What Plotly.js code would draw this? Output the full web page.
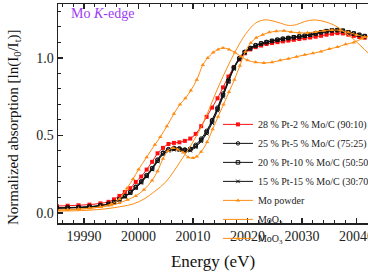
<!DOCTYPE html>
<html><head><meta charset="utf-8">
<script src="https://cdn.plot.ly/plotly-3.0.1.min.js"></script>
<style>html,body{margin:0;padding:0;background:#fff;overflow:hidden;width:368px;height:274px}#chart{width:368px;height:274px}</style>
</head><body><div id="chart"></div>
<script>
// Shared energy grid for the Pt-Mo/C samples (eV)
const energySamples = [19985,19987,19989,19991,19993,19994.5,19995.5,19996.5,19997.5,19998.5,19999.5,20000.5,20001.5,20002.5,20003.5,20004.5,20005.5,20006.5,20007.5,20008.5,20009.5,20010.5,20011.5,20012.5,20013.5,20014.5,20015.5,20016.5,20017.5,20018.5,20019.5,20020.5,20021.5,20022.5,20023.5,20024.5,20025.5,20026.5,20027.5,20028.5,20029.5,20030.5,20031.5,20032.5,20033.5,20034.5,20035.5,20036.5,20037.5,20038.5,20039.5,20040.5,20041.5];
const pt28 = [0.045,0.047,0.05,0.054,0.062,0.072,0.088,0.11,0.135,0.16,0.2,0.235,0.28,0.33,0.385,0.42,0.445,0.452,0.456,0.465,0.48,0.51,0.56,0.62,0.68,0.74,0.81,0.88,0.94,0.99,1.03,1.055,1.07,1.08,1.09,1.096,1.102,1.107,1.112,1.117,1.122,1.127,1.132,1.137,1.143,1.15,1.156,1.16,1.158,1.15,1.142,1.135,1.13];
const pt25 = [0.032,0.034,0.036,0.04,0.048,0.058,0.07,0.09,0.11,0.135,0.17,0.205,0.245,0.29,0.345,0.39,0.412,0.42,0.418,0.41,0.415,0.44,0.48,0.53,0.6,0.68,0.77,0.86,0.94,1.0,1.04,1.065,1.083,1.095,1.103,1.11,1.118,1.124,1.13,1.134,1.138,1.143,1.15,1.157,1.165,1.172,1.178,1.18,1.175,1.165,1.157,1.148,1.14];
const pt20 = [0.034,0.035,0.037,0.041,0.049,0.059,0.07,0.088,0.108,0.132,0.165,0.2,0.24,0.285,0.338,0.385,0.408,0.415,0.412,0.405,0.41,0.432,0.47,0.52,0.59,0.67,0.76,0.85,0.935,0.995,1.037,1.063,1.08,1.093,1.102,1.11,1.117,1.123,1.128,1.133,1.138,1.143,1.15,1.158,1.166,1.173,1.178,1.18,1.176,1.166,1.158,1.149,1.141];
const pt15 = [0.03,0.032,0.034,0.038,0.046,0.056,0.067,0.085,0.105,0.128,0.16,0.195,0.235,0.28,0.332,0.378,0.4,0.408,0.405,0.398,0.402,0.425,0.462,0.512,0.58,0.66,0.75,0.845,0.93,0.99,1.035,1.06,1.078,1.09,1.1,1.108,1.115,1.122,1.128,1.133,1.137,1.142,1.148,1.156,1.164,1.171,1.176,1.178,1.174,1.164,1.156,1.147,1.139];

const moPowderE = [19985,19987,19989,19991,19993,19995,19996.5,19997.9,19999,20000,20001.5,20003,20004,20005.2,20006.5,20007.6,20008.6,20009.6,20010.7,20011.8,20012.7,20013.7,20014.6,20015.5,20016.6,20017.7,20018.8,20020,20021.5,20023,20024.5,20026,20027.5,20029,20030.5,20032,20033.5,20035,20036.5,20038,20039.5,20041,20042.2];
const moPowder = [0.018,0.02,0.024,0.03,0.04,0.058,0.09,0.16,0.22,0.28,0.36,0.44,0.49,0.56,0.64,0.7,0.74,0.79,0.86,0.955,1.0,1.035,1.055,1.065,1.055,1.035,1.01,0.985,0.972,0.968,0.972,0.985,0.995,1.008,1.02,1.03,1.042,1.058,1.07,1.088,1.1,1.125,1.14];

const moO2E = [19985,19988,19991,19994,19997,19999,20001,20003,20005,20006.5,20008,20009.5,20011,20012.5,20014,20015.5,20017,20018.5,20020,20021.5,20023,20024.5,20026,20027.5,20029,20030.5,20032,20033.5,20035,20036.5,20038,20039.5,20041,20042.2];
const moO2 = [0.012,0.014,0.018,0.027,0.043,0.058,0.09,0.14,0.2,0.27,0.35,0.43,0.52,0.63,0.76,0.88,0.99,1.09,1.17,1.225,1.245,1.24,1.225,1.21,1.215,1.235,1.245,1.24,1.225,1.2,1.16,1.12,1.07,1.03];

const moO3E = [19985,19987,19989,19991,19993,19995,19996.5,19998,19999.5,20001,20002.5,20003.5,20004.5,20005.4,20006.3,20007.2,20008.2,20009.1,20010,20010.7,20011.5,20012.6,20013.6,20014.6,20015.6,20016.6,20017.6,20018.6,20019.6,20020.6,20021.6,20022.8,20024,20025.3,20026.7,20028,20029.5,20031,20032.5,20034,20035.5,20037,20038.5,20040,20041.5];
const moO3 = [0.02,0.022,0.025,0.03,0.038,0.05,0.065,0.085,0.11,0.15,0.21,0.27,0.35,0.4,0.42,0.41,0.39,0.36,0.355,0.365,0.395,0.458,0.54,0.62,0.7,0.78,0.86,0.95,1.04,1.097,1.13,1.15,1.165,1.172,1.175,1.168,1.162,1.162,1.168,1.175,1.18,1.178,1.165,1.15,1.135];

const seriesNames = ['28 % Pt-2 % Mo/C (90:10)','25 % Pt-5 % Mo/C (75:25)','20 % Pt-10 % Mo/C (50:50)','15 % Pt-15 % Mo/C (30:70)','Mo powder','MoO<sub>2</sub>','MoO<sub>3</sub>'];

const ORANGE = '#ff8c12';
const traces = [
  {x: energySamples, y: pt28, name: seriesNames[0], mode:'lines+markers', line:{color:'#ff1010',width:1,shape:'spline'}, marker:{symbol:'square',size:4,color:'#ff1010'}},
  {x: energySamples, y: pt25, name: seriesNames[1], mode:'lines+markers', line:{color:'#111',width:1,shape:'spline'}, marker:{symbol:'circle-open',size:3.5,color:'#111',line:{width:1}}},
  {x: energySamples, y: pt20, name: seriesNames[2], mode:'lines+markers', line:{color:'#111',width:1,shape:'spline'}, marker:{symbol:'square-open',size:3.5,color:'#111',line:{width:1}}},
  {x: energySamples, y: pt15, name: seriesNames[3], mode:'lines+markers', line:{color:'#111',width:1,shape:'spline'}, marker:{symbol:'x-thin-open',size:3.5,color:'#111',line:{width:1,color:'#111'}}},
  {x: moPowderE, y: moPowder, name: seriesNames[4], mode:'lines+markers', line:{color:ORANGE,width:1,shape:'spline'}, marker:{symbol:'triangle-up',size:4,color:ORANGE}},
  {x: moO2E, y: moO2, name: seriesNames[5], mode:'lines', line:{color:ORANGE,width:1,shape:'spline'}},
  {x: moO3E, y: moO3, name: seriesNames[6], mode:'lines+markers', line:{color:ORANGE,width:1,shape:'spline'}, marker:{symbol:'triangle-up',size:4,color:ORANGE}}
];

const SERIF = 'Times New Roman, Liberation Serif, serif';
const layout = {
  width: 368, height: 274,
  margin: {l:58, r:0, t:4, b:51, pad:0, autoexpand:false},
  paper_bgcolor:'#fff', plot_bgcolor:'#fff',
  showlegend: true,
  font: {family: SERIF, color:'#222'},
  xaxis: {
    range:[19985.23, 20042.11], dtick:10, tick0:19990, tickformat:'d',
    ticks:'inside', ticklen:5, tickwidth:1.3, tickcolor:'#222',
    minor:{dtick:2, ticks:'inside', ticklen:3, tickwidth:1, tickcolor:'#222'},
    showline:true, linecolor:'#222', linewidth:1.5, mirror:'allticks',
    showgrid:false, zeroline:false, automargin:false, ticklabeloverflow:'allow',
    tickfont:{family:SERIF, size:14, color:'#222'},
    title:{text:'Energy (eV)', font:{family:SERIF, size:17, color:'#111'}, standoff:12}
  },
  yaxis: {
    range:[-0.0645, 1.348], dtick:0.5, tick0:0, tickformat:'.1f',
    ticks:'inside', ticklen:5, tickwidth:1.3, tickcolor:'#222',
    minor:{dtick:0.1, ticks:'inside', ticklen:3, tickwidth:1, tickcolor:'#222'},
    showline:true, linecolor:'#222', linewidth:1.5, mirror:false,
    showgrid:false, zeroline:false, automargin:false,
    tickfont:{family:SERIF, size:14, color:'#222'}
  },
  legend: {
    x:0.516, xanchor:'left', y:0.19, yanchor:'middle',
    bgcolor:'rgba(0,0,0,0)', borderwidth:0,
    font:{family:SERIF, size:10, color:'#222'}
  },
  annotations: [
    {xref:'paper', yref:'paper', x:0.035, y:0.955, xanchor:'left', yanchor:'middle', showarrow:false,
     text:'Mo <i>K</i>-edge', font:{family:SERIF, size:14, color:'#9b3cf5'}},
    {xref:'paper', yref:'paper', x:0, xshift:-44, y:0.438, xanchor:'center', yanchor:'middle', showarrow:false, textangle:-90,
     text:'Normalized absorption [ln(I<sub>0</sub>/I<sub>t</sub>)]', font:{family:SERIF, size:15, color:'#111'}}
  ]
};

Plotly.newPlot('chart', traces, layout, {staticPlot:true, displayModeBar:false});
</script></body></html>
